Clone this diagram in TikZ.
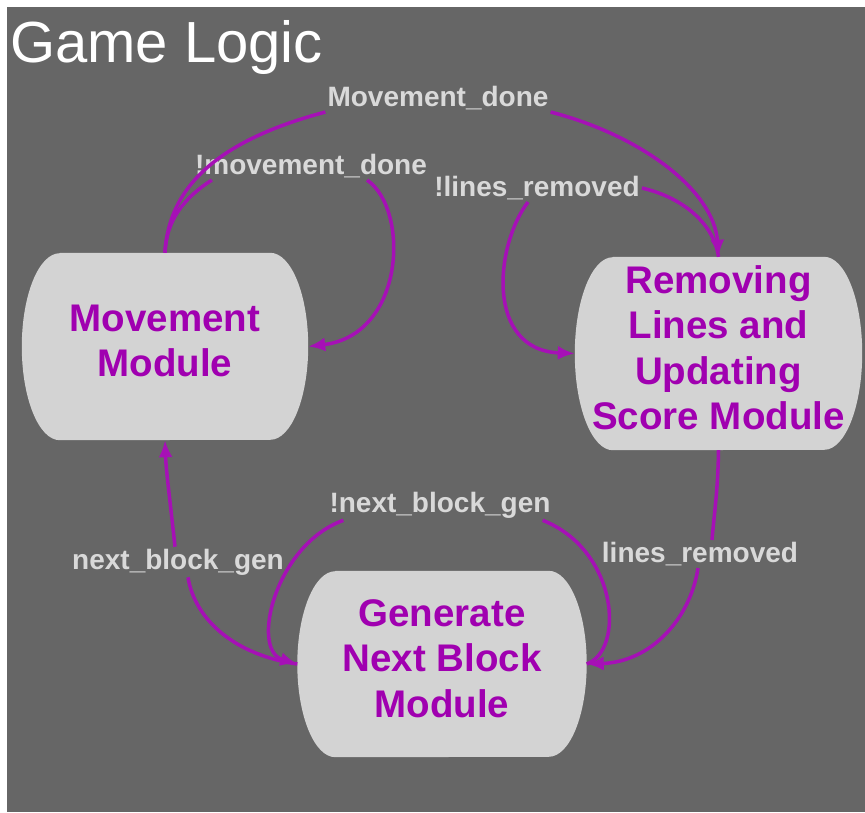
\documentclass[tikz,border=0pt]{standalone}
\usepackage{fontspec}
\setmainfont{Liberation Sans}
\usetikzlibrary{calc, arrows.meta, backgrounds}

\definecolor{bggray}{RGB}{102,102,102}
\definecolor{boxgray}{RGB}{211,211,211}
\definecolor{modpurple}{RGB}{160,0,176}
\definecolor{edgepurple}{RGB}{166,16,182}
\definecolor{condgray}{RGB}{217,217,217}

\tikzset{
    module/.style={rectangle, inner sep=0pt, align=center, text=modpurple,
        font=\fontsize{38.5}{45.5}\selectfont\bfseries},
    cond/.style={inner sep=2pt, text=condgray,
        font=\fontsize{28}{30}\selectfont\bfseries},
    trans/.style={draw=edgepurple, line width=3.5pt},
    transarrow/.style={trans, -{Latex[length=17pt, width=14pt]}},
}

\begin{document}
\begin{tikzpicture}[x=1pt, y=-1pt]
    \def\rx{38pt}
    \useasboundingbox (0,0) rectangle (865,812);

    \node[font=\fontsize{58}{62}\selectfont, text=white, inner sep=0pt, anchor=base west] (title) at (10,62) {Game Logic};

    % modules
    \node[module, minimum width=286pt, minimum height=187pt] (mov) at (165,346.5) {Movement\\Module\\[-34pt]};
    \node[module, minimum width=287pt, minimum height=193pt] (rem) at (718.5,353.5) {Removing\\Lines and\\Updating\\Score Module\\[-34pt]};
    \node[module, minimum width=289pt, minimum height=186pt] (gen) at (442,664) {Generate\\Next Block\\Module\\[-34pt]};

    \begin{scope}[on background layer]
        \fill[white] (0,0) rectangle (865,812);
        \fill[bggray] (7,7) rectangle (865,812);
        \foreach \m/\h in {mov/93.5, rem/96.5, gen/93}
            \fill[boxgray] ([xshift=\rx]\m.north west) -- ([xshift=-\rx]\m.north east)
                arc[start angle=90, end angle=-90, x radius=\rx, y radius=\h pt]
                -- ([xshift=\rx]\m.south west)
                arc[start angle=270, end angle=90, x radius=\rx, y radius=\h pt] -- cycle;
    \end{scope}

    % conditions
    \node[cond] (mvd) at (438,98) {Movement\_done};
    \node[cond] (nmd) at (311,166) {!movement\_done};
    \node[cond] (nlr) at (537,188) {!lines\_removed};
    \node[cond] (lrm) at (700,554) {lines\_removed};
    \node[cond] (nng) at (440,505) {!next\_block\_gen};
    \node[cond] (ngl) at (178,562) {next\_block\_gen};

    % Movement_done
    \draw[trans] (mov.north) .. controls (168,200) and (200,145) .. (mvd.south west);
    \draw[transarrow] (mvd.south east) .. controls (640,135) and (714,190) .. (rem.north);

    % !movement_done
    \draw[trans] (mov.north) .. controls (166,220) and (185,197) .. ([xshift=19pt]nmd.south west);
    \draw[transarrow] ([xshift=-62pt]nmd.south east) .. controls (410,210) and (405,335) .. (mov.east);

    % !lines_removed
    \draw[trans] (rem.north) .. controls (714,225) and (685,198) .. (nlr.east);
    \draw[transarrow] ([xshift=-9pt]nlr.south) .. controls (495,245) and (485,350) .. (rem.west);

    % lines_removed
    \draw[trans] (rem.south) .. controls (718,490) and (714,515) .. ([xshift=12pt]lrm.north);
    \draw[transarrow] ([xshift=-2pt]lrm.south) .. controls (690,620) and (650,662) .. (gen.east);

    % !next_block_gen
    \draw[trans] (gen.east) .. controls (625,650) and (618,550) .. ([xshift=-10pt]nng.south east);
    \draw[transarrow] ([xshift=16pt]nng.south west) .. controls (275,545) and (250,650) .. (gen.west);

    % next_block_gen
    \draw[trans] (gen.west) .. controls (235,655) and (195,620) .. ([xshift=10pt]ngl.south);
    \draw[transarrow] ([xshift=-3pt]ngl.north) .. controls (170,500) and (166,470) .. (mov.south);
\end{tikzpicture}
\end{document}
